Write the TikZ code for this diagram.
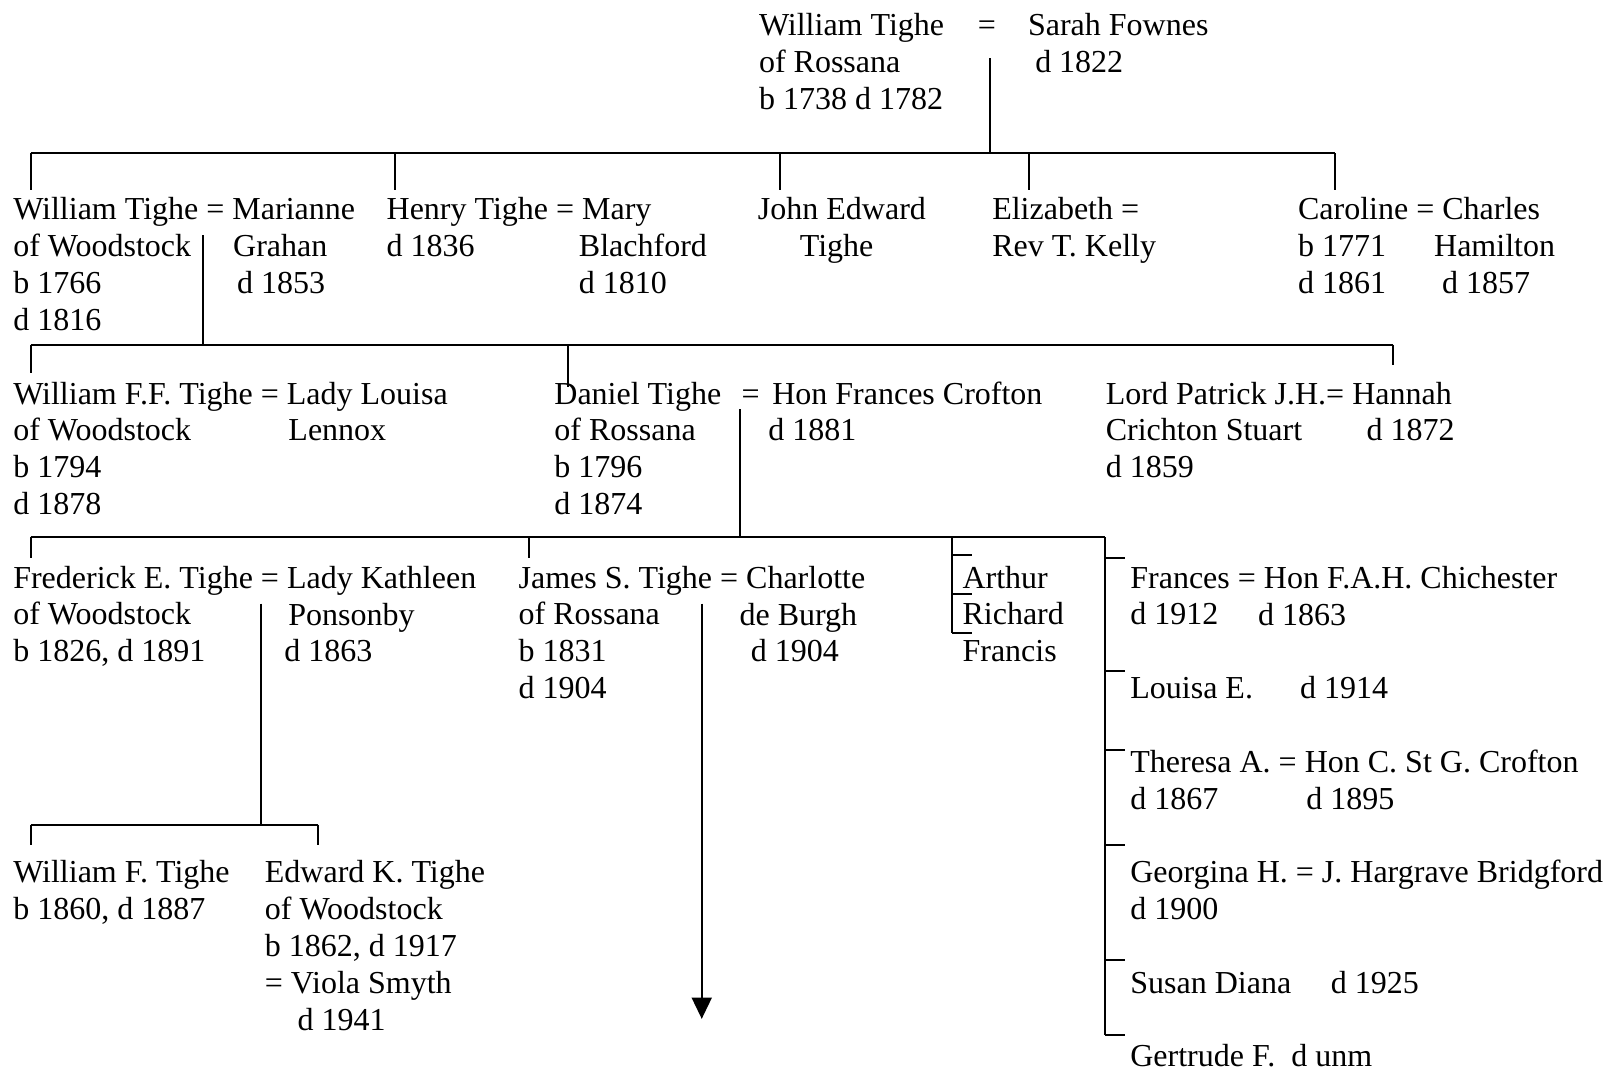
\documentclass[tikz,border=0pt]{standalone}
\usepackage{fontspec}
\setmainfont{Liberation Serif}
\usetikzlibrary{arrows.meta}
\newcommand{\ppl}[1]{\begin{tabular}[t]{@{}l@{}}#1\end{tabular}}
\tikzset{
  person/.style={anchor=base west, inner sep=0pt, font=\fontsize{12}{13.8}\selectfont},
}
\begin{document}
\begin{tikzpicture}[x=0.3836pt, y=-0.3836pt, line width=0.75pt, >={Triangle[width=7.5pt,length=8pt]}]
\useasboundingbox (0,0) rectangle (1568,1046);
% William Tighe of Rossana
\node (wt) at (741,35)[person]{\ppl{William Tighe\\of Rossana\\b 1738 d 1782}};
\node (eq0) at (955,35)[person]{=};
\node (sf) at (1004,35)[person]{\ppl{Sarah Fownes\\\hspace{2.7pt}d 1822}};
% their children
\node (wtw) at (12,215)[person]{\ppl{William Tighe = Marianne\\of Woodstock\\b 1766\\d 1816}};
\node (mg) at (227,251)[person]{\ppl{Grahan\\\hspace{1.5pt}d 1853}};
\node (ht) at (377,215)[person]{\ppl{Henry Tighe = Mary\\d 1836}};
\node (mb) at (565,251)[person]{\ppl{Blachford\\d 1810}};
\node (jet) at (740,215)[person]{\ppl{John Edward\\\hspace{15.7pt}Tighe}};
\node (el) at (969,215)[person]{\ppl{Elizabeth =\\Rev T. Kelly}};
\node (ca) at (1268,215)[person]{\ppl{Caroline = Charles\\b 1771\\d 1861}};
\node (chh) at (1401,251)[person]{\ppl{Hamilton\\\hspace{3pt}d 1857}};
% grandchildren
\node (wff) at (12,395)[person]{\ppl{William F.F. Tighe = Lady Louisa\\of Woodstock\\b 1794\\d 1878}};
\node (lln) at (281,431)[person]{Lennox};
\node (dt) at (541,395)[person]{\ppl{Daniel Tighe\\of Rossana\\b 1796\\d 1874}};
\node (eq2) at (724,395)[person]{=};
\node (hfc) at (754,395)[person]{\ppl{Hon Frances Crofton\\\hspace{-1.5pt}d 1881}};
\node (lp) at (1080,395)[person]{\ppl{Lord Patrick J.H.= Hannah\\Crichton Stuart\\d 1859}};
\node (hn) at (1335,431)[person]{d 1872};
% children of Daniel
\node (fet) at (12,575)[person]{\ppl{Frederick E. Tighe = Lady Kathleen\\of Woodstock\\b 1826, d 1891}};
\node (lkp) at (281,611)[person]{\ppl{Ponsonby\\\hspace{-1.5pt}d 1863}};
\node (jst) at (506,575)[person]{\ppl{James S. Tighe = Charlotte\\of Rossana\\b 1831\\d 1904}};
\node (cdb) at (722,611)[person]{\ppl{de Burgh\\\hspace{4.2pt}d 1904}};
\node (arf) at (940,575)[person]{\ppl{Arthur\\Richard\\Francis}};
\node (fr) at (1104,575)[person]{\ppl{Frances = Hon F.A.H. Chichester\\d 1912}};
\node (fac) at (1229,611)[person]{d 1863};
\node (le) at (1104,683)[person]{Louisa E.};
\node (led) at (1270,683)[person]{d 1914};
\node (ta) at (1104,755)[person]{\ppl{Theresa A. = Hon C. St G. Crofton\\d 1867}};
\node (csc) at (1276,791)[person]{d 1895};
\node (gh) at (1104,863)[person]{\ppl{Georgina H. = J. Hargrave Bridgford\\d 1900}};
\node (sd) at (1104,971)[person]{Susan Diana};
\node (sdd) at (1300,971)[person]{d 1925};
\node (gf) at (1104,1043)[person]{Gertrude F.\ \ d unm};
% children of Frederick
\node (wft) at (12,863)[person]{\ppl{William F. Tighe\\b 1860, d 1887}};
\node (ekt) at (258,863)[person]{\ppl{Edward K. Tighe\\of Woodstock\\b 1862, d 1917\\= Viola Smyth\\\hspace{12.3pt}d 1941}};
% lines
\coordinate (m0) at (968,57);
\coordinate (b0w) at (30,150);
\coordinate (b0e) at (1305,150);
\draw (m0) -- (m0 |- b0w);
\draw (b0w) -- (b0e);
\foreach \x in {30,386,762,1006,1305}
  \draw (\x,150) -- (\x,186);
\coordinate (m1) at (198,230);
\coordinate (b1w) at (30,337);
\coordinate (b1e) at (1362,337);
\draw (m1) -- (m1 |- b1w);
\draw (b1w) -- (b1e);
\foreach \x/\y in {30/365,555/378,1362/357}
  \draw (\x,337) -- (\x,\y);
\coordinate (m2) at (723,400);
\coordinate (b2w) at (30,525);
\coordinate (b2e) at (1080,525);
\draw (m2) -- (m2 |- b2w);
\draw (b2w) -- (b2e);
\foreach \x in {30,517}
  \draw (\x,525) -- (\x,545);
\draw (931,525) -- (931,619);
\foreach \y in {543,581,619}
  \draw (931,\y) -- (950,\y);
\draw (b2e) -- (1080,1012);
\foreach \y in {545,656,733,826,938,1012}
  \draw (1080,\y) -- (1100,\y);
\coordinate (m3) at (255,590);
\coordinate (b3w) at (30,806);
\coordinate (b3e) at (311,806);
\draw (m3) -- (m3 |- b3w);
\draw (b3w) -- (b3e);
\foreach \x in {30,311}
  \draw (\x,806) -- (\x,826);
\coordinate (m4) at (686,590);
\draw[->] (m4) -- (686,996);
\end{tikzpicture}
\end{document}
